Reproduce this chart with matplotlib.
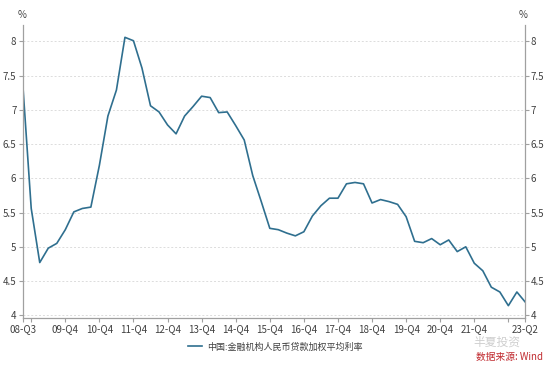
import matplotlib
matplotlib.use("Agg")
import matplotlib.pyplot as plt

plt.rcParams['font.family'] = ['Noto Sans CJK SC', 'DejaVu Sans']

quarters = [f"{y:02d}-Q{q}" for y in range(8, 24) for q in range(1, 5)][2:62]
rates = [7.39, 5.56, 4.77, 4.98, 5.05, 5.25, 5.51, 5.56, 5.58, 6.19,
         6.91, 7.29, 8.06, 8.01, 7.61, 7.06, 6.97, 6.78, 6.65, 6.91,
         7.05, 7.20, 7.18, 6.96, 6.97, 6.77, 6.56, 6.04, 5.66, 5.27,
         5.25, 5.20, 5.16, 5.22, 5.45, 5.60, 5.71, 5.71, 5.92, 5.94,
         5.92, 5.64, 5.69, 5.66, 5.62, 5.44, 5.08, 5.06, 5.12, 5.03,
         5.10, 4.93, 5.00, 4.76, 4.65, 4.41, 4.34, 4.14, 4.34, 4.19]
series_name = "中国:金融机构人民币贷款加权平均利率"
tick_quarters = ["08-Q3", "08-Q4", "09-Q4", "10-Q4", "11-Q4", "12-Q4", "13-Q4",
                 "14-Q4", "15-Q4", "16-Q4", "17-Q4", "18-Q4", "19-Q4", "20-Q4",
                 "21-Q4", "22-Q4", "23-Q2"]
hidden_labels = ["08-Q4", "22-Q4"]
yticks = [4, 4.5, 5, 5.5, 6, 6.5, 7, 7.5, 8]

line_color = "#2f6f8f"
text_color = "#404040"
axis_color = "#a0a0a0"

fig = plt.figure(figsize=(5.5, 3.66), dpi=100)
ax = fig.add_axes([22.7/550, 1-318/366, (525.4-22.7)/550, (318-25)/366])

x = list(range(len(rates)))
ax.plot(x, rates, color=line_color, lw=1.2, label=series_name)
ax.set_xlim(0, len(rates)-1)
ax.set_ylim(3.96, 8.24)

tick_pos = [quarters.index(q) for q in tick_quarters]
tick_lab = ["" if q in hidden_labels else q for q in tick_quarters]
ax.set_xticks(tick_pos)
ax.set_xticklabels(tick_lab)
ax.set_yticks(yticks)
ax.set_yticklabels([f"{v:g}" for v in yticks])
ax.grid(axis='y', color='#dcdcdc', ls=(0, (2, 2)), lw=0.7)
ax.set_axisbelow(True)

for s in ['top', 'right']:
    ax.spines[s].set_visible(False)
for s in ['left', 'bottom']:
    ax.spines[s].set_color(axis_color)
    ax.spines[s].set_linewidth(0.9)

ax.tick_params(axis='both', colors=axis_color, labelcolor=text_color,
               labelsize=7, length=3, width=0.8, pad=1.5)

ax2 = ax.twinx()
ax2.set_ylim(ax.get_ylim())
ax2.set_yticks(yticks)
ax2.set_yticklabels([f"{v:g}" for v in yticks])
for s in ['top', 'left', 'bottom']:
    ax2.spines[s].set_visible(False)
ax2.spines['right'].set_color(axis_color)
ax2.spines['right'].set_linewidth(0.9)
ax2.tick_params(axis='y', colors=axis_color, labelcolor=text_color,
                labelsize=7, length=3, width=0.8, pad=1)

fig.text(22/550, 1-15/366, "%", fontsize=7, color=text_color, ha='center', va='center')
fig.text(523/550, 1-15/366, "%", fontsize=7, color=text_color, ha='center', va='center')

leg = fig.legend(loc='center', bbox_to_anchor=(275/550, 1-347/366), frameon=False,
                 fontsize=6.5, handlelength=1.6, handletextpad=0.5, labelcolor=text_color)

fig.text(497/550, 1-342/366, "半夏投资", fontsize=8.5, color='#cfcfcf',
         ha='center', va='center')
fig.text(510/550, 1-357/366, "数据来源: Wind", fontsize=7, color='#c0282d',
         ha='center', va='center')

fig.savefig("out.png", dpi=100)
